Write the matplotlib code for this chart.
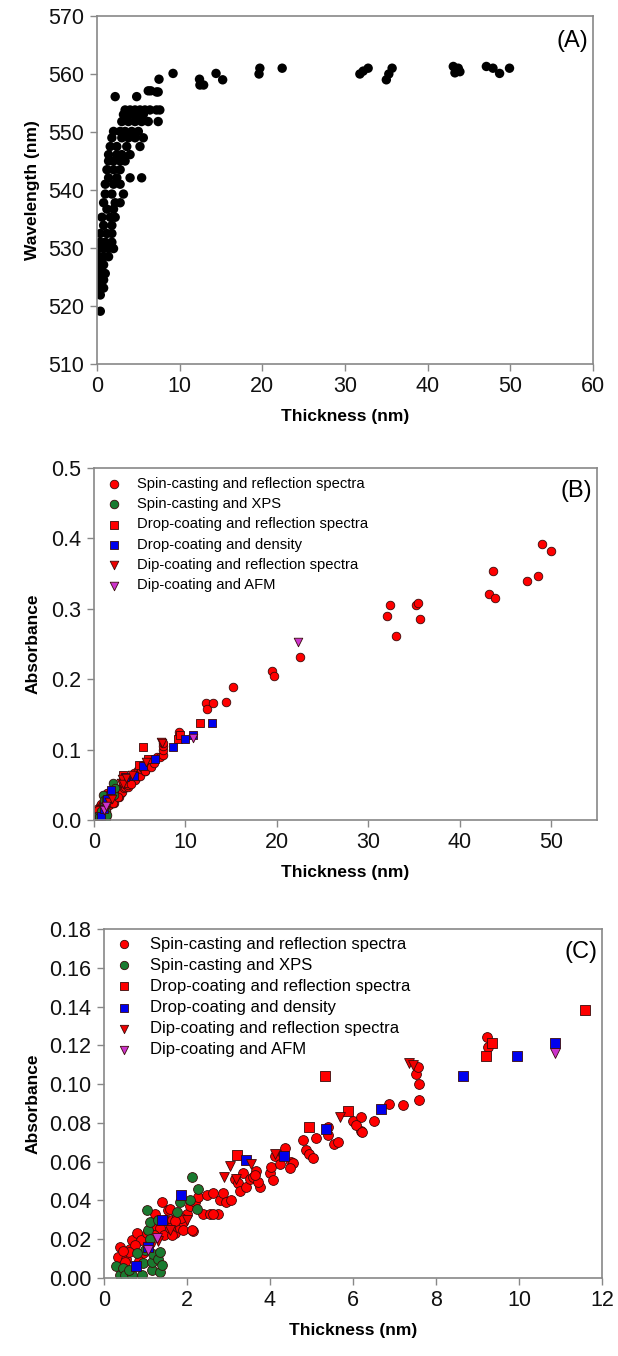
import numpy as np
import matplotlib
matplotlib.use('Agg')
from matplotlib import pyplot as plt

plt.rcParams['font.family'] = ['Liberation Sans', 'DejaVu Sans']

# panel A: wavelength vs thickness
thick_a = [0.4, 0.4, 0.25, 0.8, 0.2, 0.8, 0.2, 0.6, 1.0, 0.2, 0.8, 0.2, 0.8, 1.4,
           0.2, 0.8, 1.4, 2.0, 0.4, 1.0, 1.8, 0.4, 1.2, 1.8, 0.8, 1.8, 0.6, 1.6, 2.2,
           1.2, 2.0, 0.8, 2.2, 2.8, 1.0, 1.8, 3.2, 1.0, 2.0, 2.8, 1.4, 2.4, 4.0, 5.4,
           1.2, 2.0, 2.8, 1.4, 2.0, 2.8, 3.4, 1.4, 2.4, 3.0, 4.0, 1.6, 2.4, 3.6, 5.2,
           1.8, 3.0, 3.8, 4.6, 5.6, 2.0, 2.8, 3.4, 4.2, 5.0, 3.0, 3.8, 4.6, 5.4, 6.2,
           7.4, 3.2, 3.8, 4.4, 5.0, 5.6, 3.4, 4.0, 4.6, 5.2, 5.8, 6.4, 7.2, 7.6, 2.2,
           4.8, 6.2, 7.2, 6.5, 7.4, 7.5, 9.2, 12.4, 12.45, 12.9, 14.4, 15.2, 19.7,
           19.6, 22.4, 31.8, 32.2, 32.8, 35.0, 35.3, 35.7, 43.1, 43.3, 43.7, 43.9,
           47.1, 47.9, 48.7, 49.9, 0.3, 0.5, 0.3, 0.5]
wave_a = [519.1, 521.9, 523.1, 523.1, 524.5, 524.5, 525.6, 525.6, 525.6, 527.1,
          527.1, 528.5, 528.5, 528.5, 529.9, 529.9, 529.9, 529.9, 531.0, 531.0,
          531.0, 532.5, 532.5, 532.5, 533.9, 533.9, 535.3, 535.3, 535.3, 536.7,
          536.7, 537.8, 537.8, 537.8, 539.3, 539.3, 539.3, 541.0, 541.0, 541.0,
          542.1, 542.1, 542.1, 542.1, 543.5, 543.5, 543.5, 545.0, 545.0, 545.0,
          545.0, 546.1, 546.1, 546.1, 546.1, 547.5, 547.5, 547.5, 547.5, 549.0,
          549.0, 549.0, 549.0, 549.0, 550.1, 550.1, 550.1, 550.1, 550.1, 551.8,
          551.8, 551.8, 551.8, 551.8, 551.8, 553.0, 553.0, 553.0, 553.0, 553.0,
          553.8, 553.8, 553.8, 553.8, 553.8, 553.8, 553.8, 553.8, 556.1, 556.1,
          557.1, 556.9, 557.1, 556.9, 559.1, 560.1, 559.1, 558.1, 558.1, 560.1,
          559.0, 561.0, 560.0, 561.0, 560.0, 560.5, 561.0, 559.0, 560.0, 561.0,
          561.3, 560.2, 561.0, 560.4, 561.3, 561.0, 560.1, 561.0, 522.5, 526.5,
          530.5, 527.8]

# panels B and C: absorbance vs thickness
spin_refl_t = [0.38, 0.34, 0.54, 0.63, 0.67, 0.79, 0.90, 0.95, 0.75, 1.03, 1.15, 1.23,
               1.39, 1.55, 1.35, 1.47, 1.63, 1.71, 1.83, 1.91, 1.75, 1.99, 2.15, 2.07,
               2.19, 2.27, 2.39, 2.55, 2.47, 2.63, 2.75, 2.79, 2.87, 2.95, 3.07, 3.15,
               3.23, 3.27, 3.35, 3.43, 3.51, 3.59, 3.75, 3.67, 3.99, 4.03, 4.11, 4.23,
               4.31, 4.35, 4.51, 4.55, 4.47, 4.79, 4.87, 4.95, 5.03, 5.11, 5.39, 5.39,
               5.55, 5.63, 5.99, 6.19, 6.19, 6.07, 6.22, 6.51, 6.86, 7.2, 7.58, 7.58,
               7.52, 7.56, 9.24, 9.25, 0.5, 0.6, 0.85, 1.1, 1.2, 1.45, 1.6, 1.85, 0.45,
               1.59, 1.7, 1.63, 1.91, 2.11, 2.63, 3.71, 3.63, 4.07,
               12.3, 12.4, 13.0, 14.4, 15.2, 19.5, 19.7, 22.5, 32.0, 32.4, 33.0, 35.2,
               35.45, 35.7, 43.2, 43.6, 43.9, 47.4, 48.5, 49.0, 50.0]
spin_refl_a = [0.016, 0.011, 0.010, 0.015, 0.0196, 0.023, 0.0196, 0.0127, 0.017, 0.023,
               0.027, 0.033, 0.039, 0.035, 0.026, 0.030, 0.030, 0.023, 0.026, 0.029,
               0.032, 0.033, 0.024, 0.037, 0.039, 0.042, 0.033, 0.033, 0.043, 0.044,
               0.033, 0.040, 0.044, 0.039, 0.040, 0.051, 0.049, 0.045, 0.054, 0.047,
               0.051, 0.052, 0.047, 0.055, 0.054, 0.057, 0.063, 0.059, 0.064, 0.067,
               0.060, 0.0595, 0.0566, 0.071, 0.066, 0.064, 0.062, 0.072, 0.078, 0.074,
               0.069, 0.070, 0.081, 0.083, 0.076, 0.079, 0.0755, 0.081, 0.0897, 0.089,
               0.092, 0.100, 0.105, 0.109, 0.1245, 0.119, 0.008, 0.0135, 0.009, 0.018,
               0.022, 0.022, 0.026, 0.031, 0.014, 0.0355, 0.0296, 0.022, 0.0245, 0.0245,
               0.033, 0.0497, 0.0532, 0.0505,
               0.166, 0.157, 0.166, 0.167, 0.189, 0.211, 0.205, 0.232, 0.290, 0.306,
               0.261, 0.306, 0.308, 0.285, 0.321, 0.353, 0.316, 0.339, 0.347, 0.392,
               0.382]
spin_xps_t = [0.30, 0.38, 0.46, 0.50, 0.67, 0.91, 0.95, 0.99, 1.03, 1.07, 1.11, 1.15,
              1.15, 1.19, 1.31, 1.31, 1.35, 1.35, 1.39, 1.75, 1.83, 2.07, 2.11, 2.23,
              2.27, 1.11, 0.8, 0.6]
spin_xps_a = [0.006, 0.0015, 0.005, 0.0015, 0.0015, 0.0015, 0.0075, 0.0143, 0.035, 0.025,
              0.029, 0.004, 0.0083, 0.0126, 0.030, 0.010, 0.0134, 0.003, 0.0066, 0.034,
              0.039, 0.040, 0.052, 0.0355, 0.046, 0.020, 0.013, 0.004]
drop_refl_t = [3.2, 4.93, 5.33, 5.87, 9.2, 9.36, 11.6]
drop_refl_a = [0.0634, 0.078, 0.104, 0.086, 0.1145, 0.121, 0.138]
drop_dens_t = [0.77, 1.05, 1.39, 1.85, 3.43, 4.33, 5.35, 6.67, 8.64, 9.96, 10.86, 12.9]
drop_dens_a = [0.0063, 0.016, 0.030, 0.043, 0.061, 0.063, 0.077, 0.087, 0.104, 0.1145,
               0.1214, 0.138]
dip_refl_t = [1.3, 1.6, 2.0, 2.9, 3.04, 3.17, 3.55, 4.11, 5.69, 7.35, 7.45]
dip_refl_a = [0.019, 0.025, 0.030, 0.052, 0.058, 0.051, 0.059, 0.064, 0.083, 0.111, 0.110]
dip_afm_t = [1.07, 1.27, 10.86, 22.3]
dip_afm_a = [0.0144, 0.0205, 0.116, 0.253]

series = [
    ('Spin-casting and reflection spectra', spin_refl_t, spin_refl_a, 'o', '#ff0000'),
    ('Spin-casting and XPS', spin_xps_t, spin_xps_a, 'o', '#1a7a30'),
    ('Drop-coating and reflection spectra', drop_refl_t, drop_refl_a, 's', '#ff0000'),
    ('Drop-coating and density', drop_dens_t, drop_dens_a, 's', '#0000ee'),
    ('Dip-coating and reflection spectra', dip_refl_t, dip_refl_a, 'v', '#ee0000'),
    ('Dip-coating and AFM', dip_afm_t, dip_afm_a, 'v', '#cc33cc'),
]

fig = plt.figure(figsize=(6.18, 13.56), dpi=100)

def style_axes(ax):
    for s in ax.spines.values():
        s.set_color('#888888')
        s.set_linewidth(1.2)
    ax.tick_params(direction='out', length=5, width=1.0, color='#888888', pad=4,
                   labelsize=15.5, labelcolor='#111111')

# (A)
axA = fig.add_axes([97/618, 1-364/1356, 496/618, 348/1356])
axA.scatter(thick_a, wave_a, s=46, c='black', edgecolors='none')
axA.set_xlim(0, 60)
axA.set_ylim(510, 570)
axA.set_xticks(np.arange(0, 61, 10))
axA.set_yticks(np.arange(510, 571, 10))
axA.set_xlabel('Thickness (nm)', fontsize=12.5, fontweight='bold', labelpad=8)
axA.set_ylabel('Wavelength (nm)', fontsize=12.5, fontweight='bold', labelpad=6)
axA.text(0.99, 0.96, '(A)', transform=axA.transAxes, ha='right', va='top', fontsize=17)
style_axes(axA)

# (B)
axB = fig.add_axes([94/618, 1-820/1356, 503/618, 352/1356])
for name, t, a, m, col in series:
    axB.scatter(t, a, s=38, marker=m, c=col, edgecolors='#3a0a0a', linewidths=0.6, label=name)
axB.set_xlim(0, 55)
axB.set_ylim(0, 0.5)
axB.set_xticks(np.arange(0, 51, 10))
axB.set_yticks(np.arange(0, 0.51, 0.1))
axB.set_xlabel('Thickness (nm)', fontsize=12.5, fontweight='bold', labelpad=8)
axB.set_ylabel('Absorbance', fontsize=12.5, fontweight='bold', labelpad=8)
axB.text(0.99, 0.965, '(B)', transform=axB.transAxes, ha='right', va='top', fontsize=17)
axB.legend(loc='upper left', frameon=False, fontsize=10.6, handletextpad=0.8,
           labelspacing=0.43, borderaxespad=0.2, handlelength=1.5, markerscale=1.0)
style_axes(axB)

# (C)
axC = fig.add_axes([104/618, 1-1278/1356, 498/618, 349/1356])
for name, t, a, m, col in series:
    axC.scatter(t, a, s=50, marker=m, c=col, edgecolors='#3a0a0a', linewidths=0.6, label=name)
axC.set_xlim(0, 12)
axC.set_ylim(0, 0.18)
axC.set_xticks(np.arange(0, 13, 2))
axC.set_yticks(np.arange(0, 0.181, 0.02))
axC.yaxis.set_major_formatter(matplotlib.ticker.FormatStrFormatter('%.2f'))
axC.set_xlabel('Thickness (nm)', fontsize=12.5, fontweight='bold', labelpad=8)
axC.set_ylabel('Absorbance', fontsize=12.5, fontweight='bold', labelpad=6)
axC.text(0.99, 0.965, '(C)', transform=axC.transAxes, ha='right', va='top', fontsize=17)
axC.legend(loc='upper left', frameon=False, fontsize=12, handletextpad=0.8,
           labelspacing=0.37, borderaxespad=0.05, handlelength=1.5, markerscale=0.85)
style_axes(axC)

fig.savefig('out.png', dpi=100)
